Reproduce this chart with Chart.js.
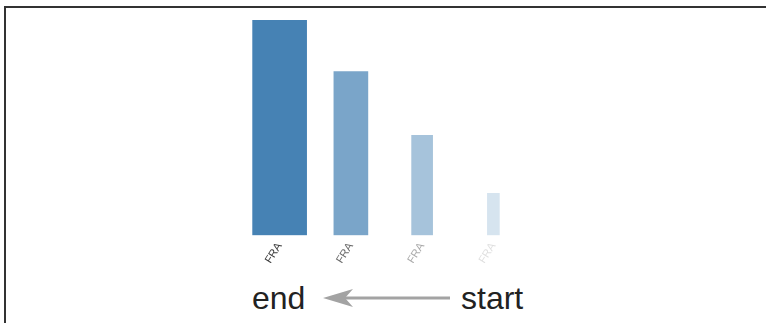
<!DOCTYPE html>
<html>
<head>
<meta charset="utf-8">
<script src="https://cdn.jsdelivr.net/npm/chart.js@4/dist/chart.umd.min.js"></script>
<style>
    html { overflow: hidden; }
    html, body { margin: 0; padding: 0; background: #fff; }
    body { width: 766px; height: 323px; position: relative; overflow: hidden; font-family: "Liberation Sans", Arial, sans-serif; }
    #frame { position: absolute; left: 4px; top: 6px; width: 900px; height: 500px; border-top: 2px solid #333; border-left: 2px solid #333; box-sizing: border-box; }
    #chartBox { position: absolute; left: 244px; top: 20px; width: 285px; height: 243px; }
    .lbl { position: absolute; font-size: 32px; line-height: 32px; color: #222; }
    #arrow { position: absolute; left: 315px; top: 286px; }
</style>
</head>
<body>
<div id="frame"></div>
<div id="chartBox"><canvas id="barChart"></canvas></div>
<span class="lbl" style="left:252px; top:282px;">end</span>
<span class="lbl" style="left:461px; top:282px;">start</span>
<svg id="arrow" width="140" height="24">
    <line x1="135" y1="12" x2="25" y2="12" stroke="#a3a3a3" stroke-width="3"/>
    <polygon points="8,12 38,3 30,12 38,21" fill="#a3a3a3"/>
</svg>

<script>
// ข้อมูลกราฟ
const labels = ['FRA', 'FRA', 'FRA', 'FRA'];
const values = [100, 76, 46.5, 19.5];
const opacities = [1, 0.72, 0.48, 0.22];

// สไตล์ของแท่ง (แยกจากข้อมูล)
const barWidths = [54, 34, 21, 12];
const tickAlphas = [0.9, 0.7, 0.4, 0.15];

// แต่ละแท่งเป็น dataset ของตัวเอง เพื่อให้ความกว้างต่างกันได้
const datasets = values.map((v, i) => ({
    data: values.map((_, j) => (j === i ? v : null)),
    backgroundColor: `rgba(70, 130, 180, ${opacities[i]})`,
    borderWidth: 0,
    barThickness: barWidths[i],
    grouped: false
}));

const ctx = document.getElementById('barChart').getContext('2d');
new Chart(ctx, {
    type: 'bar',
    data: { labels: labels, datasets: datasets },
    options: {
        responsive: true,
        maintainAspectRatio: false,
        animation: false,
        layout: { padding: 0 },
        plugins: {
            legend: { display: false },
            tooltip: { enabled: false }
        },
        scales: {
            x: {
                grid: { display: false },
                border: { display: false },
                ticks: {
                    autoSkip: false,
                    minRotation: 58,
                    maxRotation: 58,
                    padding: -3,
                    font: { family: 'Liberation Sans', size: 11 },
                    color: c => `rgba(40, 40, 40, ${tickAlphas[c.index]})`
                }
            },
            y: {
                display: false,
                beginAtZero: true,
                max: values[0]
            }
        }
    }
});
</script>
</body>
</html>
